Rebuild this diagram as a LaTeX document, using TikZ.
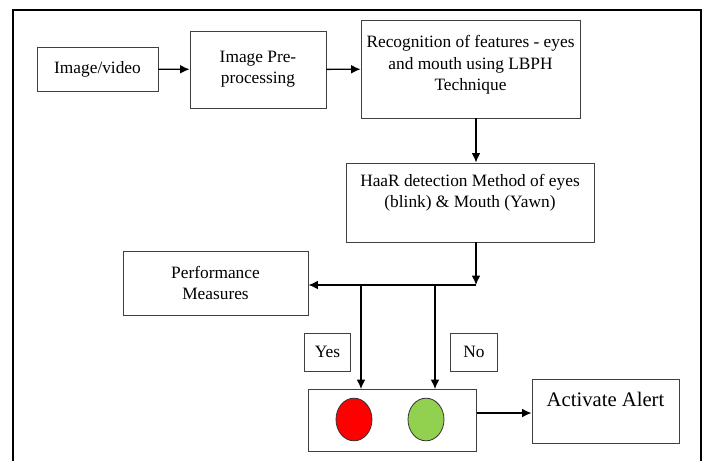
\documentclass[tikz,border=0pt]{standalone}
\usepackage{fontspec}
\setmainfont{Liberation Serif}
\usepackage{xcolor}
\usetikzlibrary{shapes.geometric,arrows.meta}

\definecolor{lampred}{HTML}{FF0000}
\definecolor{lampgreen}{HTML}{92D050}

\begin{document}
\begin{tikzpicture}[
    x=0.75pt, y=-0.75pt,
    font=\fontsize{13pt}{16pt}\selectfont,
    block/.style={rectangle, draw=black!75, line width=0.7pt, align=center, inner sep=2pt},
    tag/.style={rectangle, draw=black!75, line width=0.7pt, minimum width=35pt, minimum height=28.5pt},
    lamp/.style={ellipse, draw=black!80, line width=0.6pt, minimum width=27pt, minimum height=32pt},
    arrow/.style={-{Latex[length=7pt,width=6.5pt]}, line width=1pt},
    frame/.style={line width=1.6pt}
]
\useasboundingbox (0,0) rectangle (709,461);

% Outer frame
\draw[frame] (13,461) -- (13,10) -- (701,10) -- (701,461);

% Input and pre-processing
\node[block, minimum width=90.75pt, minimum height=33pt] (img) at (97.5,69) {Image/video};
\node[block, minimum width=102pt, minimum height=57.75pt] (pre) at (258,69.5) {Image Pre-\\processing};

% Feature recognition
\node[block, minimum width=164.25pt, minimum height=73.5pt, text depth=9pt] (rec) at (470.5,69) {Recognition of features - eyes\\and mouth using LBPH\\Technique};

% HaaR detection
\node[block, minimum width=186pt, minimum height=59.25pt, text depth=17pt] (haar) at (470,202.5) {HaaR detection Method of eyes\\(blink) \& Mouth (Yawn)};

% Performance measures
\node[block, minimum width=138.75pt, minimum height=48pt] (perf) at (215.5,283) {Performance\\Measures};

% Decision tags
\node[tag] (yes) at (327.5,352) {Yes};
\node[tag] (no) at (474,352) {No};

% Signal lights
\node[block, minimum width=126pt, minimum height=46.5pt] (light) at (392.5,420.5) {};
\node[lamp, fill=lampred] (redlamp) at (354,419.5) {};
\node[lamp, fill=lampgreen] (greenlamp) at (426,419.5) {};

% Alert
\node[block, minimum width=110.25pt, minimum height=48pt, text depth=18pt, font=\fontsize{15.5pt}{18pt}\selectfont] (alert) at (605.5,411) {Activate Alert};

% Junctions
\coordinate (split) at (476,285);
\coordinate (yestap) at (361,285);
\coordinate (notap) at (435,285);

% Arrows
\draw[arrow] (img) -- (pre);
\draw[arrow] (pre) -- (rec);
\draw[arrow] (rec.south -| split) -- (haar.north -| split);
\draw[arrow] (haar.south -| split) -- (split);
\draw[arrow] (split) -- (perf.east |- split);
\draw[arrow] (yestap) -- (yestap |- light.north);
\draw[arrow] (notap) -- (notap |- light.north);
\draw[arrow] ([yshift=5.6pt]light.east) -- ([yshift=5.6pt]light.east -| alert.west);

\end{tikzpicture}
\end{document}
